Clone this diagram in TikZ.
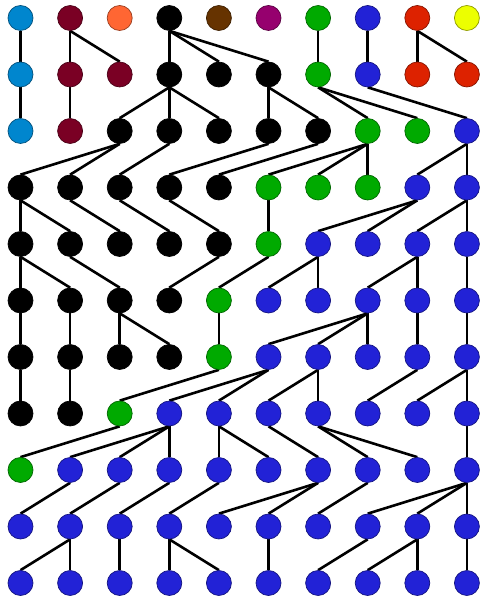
\documentclass[tikz,border=0pt]{standalone}
\usetikzlibrary{backgrounds}
\definecolor{cC}{RGB}{0,134,206}
\definecolor{cM}{RGB}{122,0,36}
\definecolor{cO}{RGB}{255,102,51}
\definecolor{cK}{RGB}{0,0,0}
\definecolor{cB}{RGB}{102,51,0}
\definecolor{cP}{RGB}{150,0,110}
\definecolor{cG}{RGB}{0,170,0}
\definecolor{cU}{RGB}{34,34,214}
\definecolor{cR}{RGB}{221,34,0}
\definecolor{cY}{RGB}{236,255,0}
\tikzset{
  dot/.style={circle, minimum size=25pt, inner sep=0pt, line width=0.7pt},
  edge/.style={line width=2.6pt, black}
}
\begin{document}
\begin{tikzpicture}[x=1pt,y=1pt]
\useasboundingbox (0,0) rectangle (480,602);
\foreach \row/\cols in {
  0/{cC,cM,cO,cK,cB,cP,cG,cU,cR,cY},
  1/{cC,cM,cM,cK,cK,cK,cG,cU,cR,cR},
  2/{cC,cM,cK,cK,cK,cK,cK,cG,cG,cU},
  3/{cK,cK,cK,cK,cK,cG,cG,cG,cU,cU},
  4/{cK,cK,cK,cK,cK,cG,cU,cU,cU,cU},
  5/{cK,cK,cK,cK,cG,cU,cU,cU,cU,cU},
  6/{cK,cK,cK,cK,cG,cU,cU,cU,cU,cU},
  7/{cK,cK,cG,cU,cU,cU,cU,cU,cU,cU},
  8/{cG,cU,cU,cU,cU,cU,cU,cU,cU,cU},
  9/{cU,cU,cU,cU,cU,cU,cU,cU,cU,cU},
  10/{cU,cU,cU,cU,cU,cU,cU,cU,cU,cU}} {
  \foreach \c [count=\i from 0] in \cols {
    \node[dot, fill=\c, draw=\c!60!black] (n-\row-\i) at ({20.5+49.6*\i},{584-56.5*\row}) {};
  }
}
\begin{scope}[on background layer]
\foreach \r/\s/\pairs in {
  0/1/{0/0,1/1,1/2,3/3,3/4,3/5,6/6,7/7,8/8,8/9},
  1/2/{0/0,1/1,3/2,3/3,3/4,5/5,5/6,6/7,6/8,7/9},
  2/3/{2/0,2/1,3/2,5/3,6/4,7/5,7/6,7/7,9/8,9/9},
  3/4/{0/0,0/1,1/2,2/3,3/4,5/5,8/6,8/7,9/8,9/9},
  4/5/{0/0,0/1,1/2,4/3,5/4,6/5,6/6,8/7,8/8,9/9},
  5/6/{0/0,1/1,2/2,2/3,4/4,7/5,7/6,7/7,8/8,9/9},
  6/7/{0/0,1/1,4/2,5/3,5/4,6/5,6/6,8/7,9/8,9/9},
  7/8/{2/0,3/1,3/2,3/3,4/4,4/5,5/6,6/7,6/8,9/9},
  8/9/{1/0,2/1,3/2,4/3,6/4,6/5,7/6,9/7,9/8,9/9},
  9/10/{1/0,1/1,2/2,3/3,3/4,5/5,7/6,8/7,8/8,9/9}} {
  \foreach \a/\b in \pairs {
    \draw[edge] (n-\r-\a.south) -- (n-\s-\b.north);
  }
}
\end{scope}
\end{tikzpicture}
\end{document}
